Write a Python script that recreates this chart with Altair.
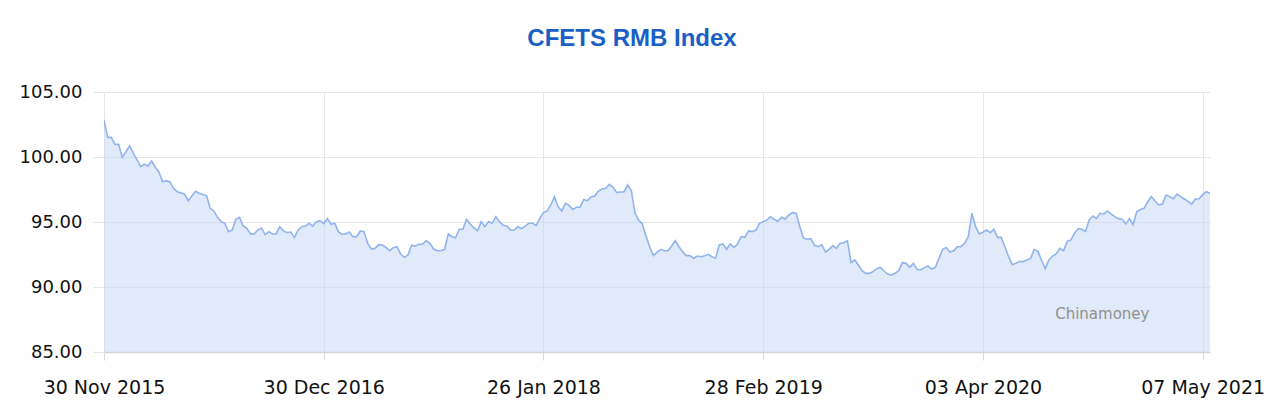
import altair as alt
import pandas as pd

# ---- data (weekly CFETS RMB index) ----
tick_labels = ["30 Nov 2015", "30 Dec 2016", "26 Jan 2018", "28 Feb 2019", "03 Apr 2020", "07 May 2021"]
tick_step = 60          # one labelled tick every 60 observations
y_ticks = [85, 90, 95, 100, 105]

values_2015_2016 = [
    102.85, 101.51, 101.51, 100.97, 100.97, 99.97, 100.40, 100.85, 100.30, 99.80,
    99.26, 99.44, 99.31, 99.69, 99.21, 98.85, 98.10, 98.18, 98.08, 97.59,
    97.33, 97.24, 97.15, 96.64, 97.00, 97.36, 97.21, 97.12, 97.03, 96.05,
    95.85, 95.36, 95.03, 94.90, 94.26, 94.38, 95.21, 95.36, 94.69, 94.51,
    94.08, 94.08, 94.38, 94.54, 94.03, 94.26, 94.08, 94.08, 94.64, 94.31,
    94.18, 94.23, 93.82, 94.38, 94.64, 94.69, 94.90, 94.69, 95.03, 95.10,
    94.88,
]
values_2017 = [
    95.28, 94.82, 94.90, 94.26, 94.05, 94.08, 94.23, 93.87, 93.87, 94.31,
    94.26, 93.36, 92.92, 92.97, 93.26, 93.23, 93.05, 92.79, 93.03, 93.10,
    92.54, 92.28, 92.46, 93.21, 93.15, 93.28, 93.31, 93.56, 93.36, 92.92,
    92.79, 92.79, 92.90, 94.08, 93.87, 93.79, 94.44, 94.44, 95.21, 94.85,
    94.54, 94.33, 95.03, 94.64, 95.03, 94.90, 95.41, 95.03, 94.74, 94.69,
    94.38, 94.38, 94.64, 94.49, 94.69, 94.90, 94.90, 94.74, 95.28, 95.72,
]
values_2018 = [
    95.85, 96.31, 96.95, 96.18, 95.85, 96.44, 96.28, 95.97, 96.13, 96.13,
    96.74, 96.64, 96.95, 97.00, 97.38, 97.54, 97.59, 97.90, 97.67, 97.26,
    97.31, 97.31, 97.85, 97.41, 95.67, 95.15, 94.85, 93.92, 93.10, 92.41,
    92.67, 92.90, 92.79, 92.79, 93.15, 93.56, 93.10, 92.72, 92.41, 92.41,
    92.21, 92.38, 92.33, 92.41, 92.51, 92.33, 92.21, 93.23, 93.31, 92.90,
    93.31, 93.05, 93.31, 93.87, 93.82, 94.31, 94.26, 94.38, 94.90, 95.03,
]
values_2019 = [
    95.15, 95.41, 95.21, 95.05, 95.36, 95.21, 95.54, 95.72, 95.67, 94.64,
    93.77, 93.67, 93.72, 93.21, 93.10, 93.26, 92.69, 92.90, 93.18, 92.97,
    93.36, 93.41, 93.56, 91.87, 92.08, 91.67, 91.26, 91.05, 91.05, 91.18,
    91.41, 91.51, 91.23, 91.00, 90.92, 91.05, 91.26, 91.87, 91.82, 91.51,
    91.82, 91.36, 91.31, 91.49, 91.62, 91.38, 91.51, 92.21, 92.90, 93.03,
    92.69, 92.79, 93.10, 93.10, 93.36, 93.87, 95.67, 94.64, 94.08, 94.21,
]
values_2020_2021 = [
    94.38, 94.18, 94.44, 93.82, 93.82, 93.10, 92.33, 91.72, 91.82, 91.97,
    91.95, 92.08, 92.18, 92.90, 92.74, 92.08, 91.41, 92.08, 92.38, 92.54,
    92.97, 92.79, 93.51, 93.62, 94.13, 94.49, 94.44, 94.26, 95.15, 95.46,
    95.28, 95.67, 95.62, 95.85, 95.62, 95.41, 95.26, 95.21, 94.85, 95.26,
    94.79, 95.79, 95.97, 96.05, 96.56, 96.95, 96.62, 96.31, 96.38, 97.08,
    96.95, 96.79, 97.15, 96.95, 96.77, 96.59, 96.38, 96.77, 96.79, 97.10,
    97.33, 97.21,
]
watermark_text = "Chinamoney"
watermark_at = (272.6, 87.55)   # (observation, index level) where the credit sits

values = values_2015_2016 + values_2017 + values_2018 + values_2019 + values_2020_2021
df = pd.DataFrame({"obs": list(range(len(values))), "index": values})
wm = pd.DataFrame({"obs": [watermark_at[0]], "index": [watermark_at[1]], "t": [watermark_text]})

label_array = "[" + ",".join("'" + s + "'" for s in tick_labels) + "]"
x_ticks = [i * tick_step for i in range(len(tick_labels))]

FONT = "DejaVu Sans"

x_enc = alt.X(
    "obs:Q",
    scale=alt.Scale(domain=[0, len(values) - 1], nice=False, zero=False),
    axis=alt.Axis(
        values=x_ticks,
        labelExpr=label_array + "[round(datum.value / %d)]" % tick_step,
        title=None,
        grid=True,
        gridColor="#e6e6e6",
        tickColor="#d8d8d8",
        tickSize=8,
        domainColor="#d6d6d6",
        domainWidth=1.5,
        labelFont=FONT,
        labelFontSize=19,
        labelColor="#111111",
        labelBaseline="alphabetic",
        labelPadding=33,
        labelOverlap=False,
        labelBound=False,
        labelFlush=False,
    ),
)
y_enc = alt.Y(
    "index:Q",
    scale=alt.Scale(domain=[85, 105], nice=False, zero=False),
    axis=alt.Axis(
        values=y_ticks,
        format=".2f",
        title=None,
        grid=True,
        gridColor="#e6e6e6",
        tickColor="#e6e6e6",
        tickSize=11,
        domain=False,
        labelFont=FONT,
        labelFontSize=18,
        labelColor="#111111",
        labelPadding=11,
    ),
)

area = alt.Chart(df).mark_area(color="#c3d5f1", fillOpacity=0.5, clip=True).encode(x=x_enc, y=y_enc)
line = alt.Chart(df).mark_line(color="#8fb4ee", strokeWidth=1.6, clip=True).encode(x="obs:Q", y="index:Q")
credit = alt.Chart(wm).mark_text(
    font=FONT, fontSize=15, color="#909090", align="center", baseline="alphabetic"
).encode(x="obs:Q", y="index:Q", text="t:N")

chart = (
    alt.layer(area, line, credit)
    .properties(
        width=1106,
        height=260,
        autosize=alt.AutoSizeParams(type="none"),
        padding={"left": 96, "top": 84, "right": 54, "bottom": 50},
        title=alt.TitleParams(
            text="CFETS RMB Index",
            font="Liberation Sans",
            fontSize=24,
            fontWeight="bold",
            color="#1a5fc6",
            anchor="middle",
            dx=-25,
            offset=13,
            baseline="alphabetic",
        ),
    )
    .configure_view(stroke=None)
)

chart.save("out.html", embed_options={"renderer": "svg", "actions": False})
